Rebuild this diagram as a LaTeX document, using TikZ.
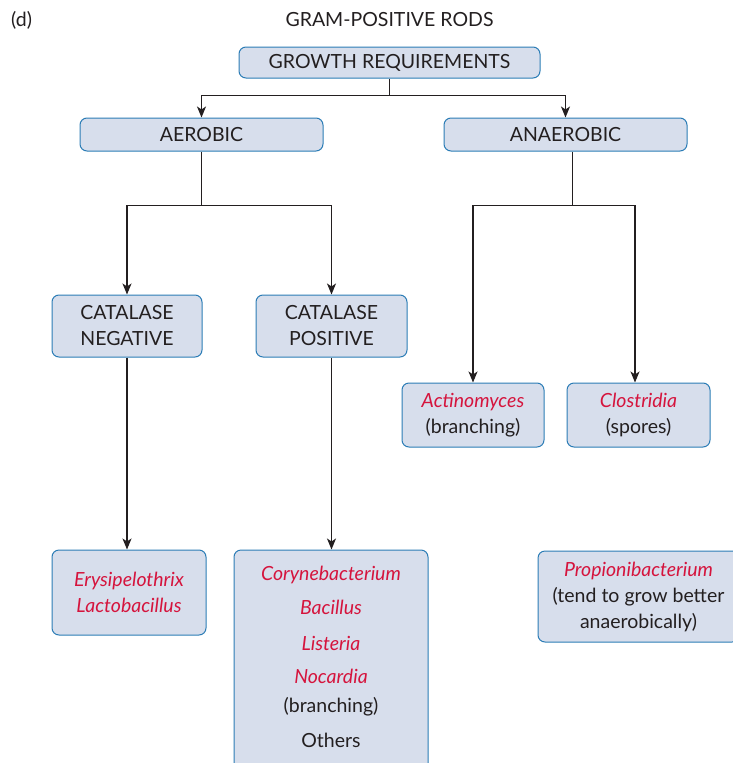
\documentclass[tikz,border=0pt]{standalone}
\usepackage{fontspec}
\setmainfont{Lato}
\usetikzlibrary{arrows.meta,calc}
\definecolor{boxfill}{HTML}{D7DEEC}
\definecolor{boxline}{HTML}{2C7DB6}
\definecolor{genus}{HTML}{D5143D}
\definecolor{ink}{HTML}{231F20}
\tikzset{
  box/.style={draw=boxline, fill=boxfill, line width=1pt, rounded corners=7pt,
    align=center, inner sep=0pt, text=ink, font=\fontsize{19.5}{26}\selectfont},
  label/.style={align=center, inner sep=0pt, text=ink, font=\fontsize{19.5}{26}\selectfont},
  link/.style={draw=ink, line width=1.1pt},
  arrow/.style={link, -{Stealth[length=11pt,width=9pt,inset=3pt]}},
}
\newcommand{\genus}[1]{\textcolor{genus}{\itshape #1}}
\begin{document}
\begin{tikzpicture}[x=1pt,y=-1pt]
\useasboundingbox (0,0) rectangle (733,763);

% headings
\node[label, anchor=base west] (tag) at (11,26) {(d)};
\node[label, anchor=base] (title) at (389.5,26) {GRAM-POSITIVE RODS};

% boxes
\node[box, minimum width=301, minimum height=31] (grow) at (389.5,62.5) {GROWTH REQUIREMENTS};
\node[box, minimum width=243, minimum height=33] (aer) at (201.5,134.5) {AEROBIC};
\node[box, minimum width=243, minimum height=33] (anaer) at (565.5,134.5) {ANAEROBIC};
\node[box, minimum width=150, minimum height=62] (cneg) at (127,326) {CATALASE\\NEGATIVE};
\node[box, minimum width=151, minimum height=62] (cpos) at (331.5,326) {CATALASE\\POSITIVE};
\node[box, minimum width=142, minimum height=64] (act) at (473,415) {\genus{Actinomyces}\\(branching)};
\node[box, minimum width=143, minimum height=64] (clo) at (638.5,415) {\genus{Clostridia}\\(spores)};
\node[box, minimum width=154, minimum height=85] (ery) at (129,592.5) {\genus{Erysipelothrix}\\\genus{Lactobacillus}};
\node[box, minimum width=194, minimum height=230] (cor) at (331,665) {};
% the base anchor of a multi-line node sits on its last line
\node[label, anchor=base] (cortext) at (331,747)
  {\genus{Corynebacterium}\\[8pt]\genus{Bacillus}\\[10pt]\genus{Listeria}\\[7pt]\genus{Nocardia}\\[3pt](branching)\\[9pt]Others};
\node[box, minimum width=201, minimum height=91] (pro) at (638.5,596.5)
  {\genus{Propionibacterium}\\(tend to grow better\\anaerobically)};

% branch points
\coordinate (gsplit) at ($(grow.south)+(0,17)$);
\coordinate (asplit) at ($(aer.south)+(0,54)$);
\coordinate (ndrop) at ($(anaer.south)+(7,0)$);
\coordinate (nsplit) at ($(ndrop)+(0,54)$);
\coordinate (cloin) at ($(clo.north)+(-3.5,0)$);

% connectors
\draw[link] (grow.south) -- (gsplit);
\draw[arrow] (gsplit) -| (aer.north);
\draw[arrow] (gsplit) -| (anaer.north);
\draw[link] (aer.south) -- (asplit);
\draw[arrow] (asplit) -| (cneg.north);
\draw[arrow] (asplit) -| (cpos.north);
\draw[link] (ndrop) -- (nsplit);
\draw[arrow] (nsplit) -| (act.north);
\draw[arrow] (nsplit) -| (cloin);
\draw[arrow] (cneg.south) -- (cneg.south |- ery.north);
\draw[arrow] (cpos.south) -- (cpos.south |- cor.north);
\end{tikzpicture}
\end{document}
